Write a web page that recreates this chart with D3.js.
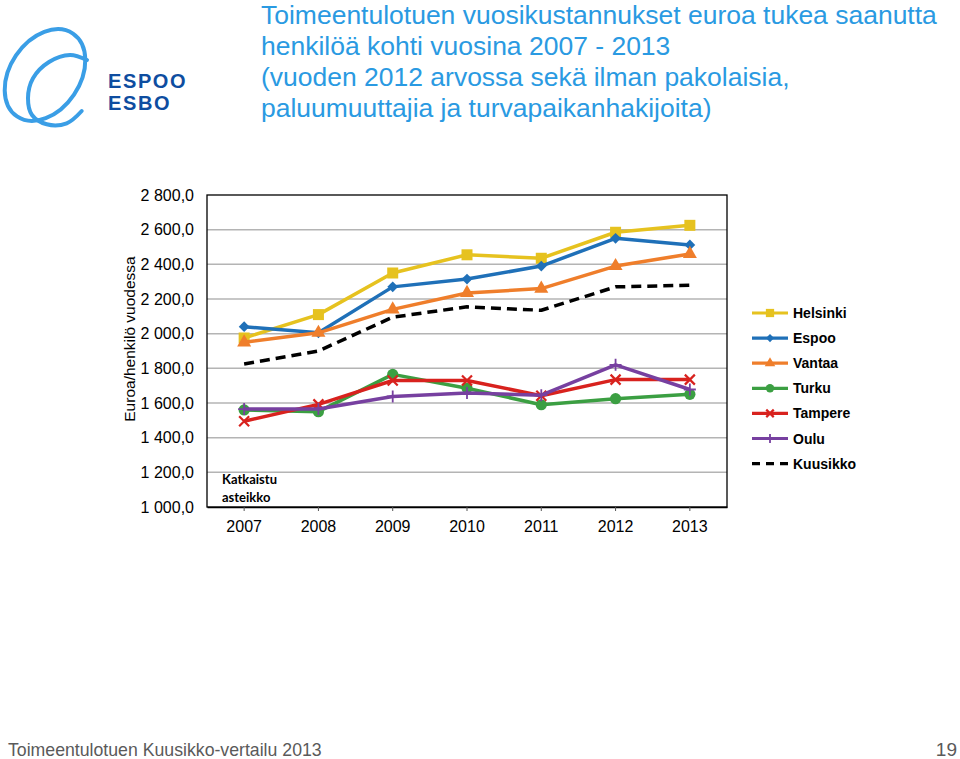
<!DOCTYPE html>
<html><head><meta charset="utf-8">
<script src="https://cdn.jsdelivr.net/npm/d3@7"></script>
<style>body{margin:0;background:#fff}svg{display:block}</style>
</head><body>
<svg id="c" width="960" height="759"></svg>
<script>
const years = ["2007","2008","2009","2010","2011","2012","2013"];
const helsinki = [1975, 2110, 2350, 2455, 2435, 2585, 2625];
const espoo    = [2040, 2005, 2270, 2315, 2390, 2550, 2512];
const vantaa   = [1950, 2005, 2140, 2235, 2260, 2390, 2460];
const turku    = [1560, 1550, 1765, 1685, 1590, 1625, 1650];
const tampere  = [1495, 1592, 1730, 1730, 1642, 1735, 1735];
const oulu     = [1565, 1565, 1638, 1658, 1645, 1820, 1678];
const kuusikko = [1825, 1900, 2095, 2155, 2135, 2270, 2280];
const seriesNames = ["Helsinki","Espoo","Vantaa","Turku","Tampere","Oulu","Kuusikko"];
const yTicks = [1000,1200,1400,1600,1800,2000,2200,2400,2600,2800];
const titleLines = ["Toimeentulotuen vuosikustannukset euroa tukea saanutta",
  "henkilöä kohti vuosina 2007 - 2013",
  "(vuoden 2012 arvossa sekä ilman pakolaisia,",
  "paluumuuttajia ja turvapaikanhakijoita)"];
const yTitle = "Euroa/henkilö vuodessa";
const noteLines = ["Katkaistu","asteikko"];
const footer = "Toimeentulotuen Kuusikko-vertailu 2013";
const pageNo = "19";

const colors = {Helsinki:"#e6c21f",Espoo:"#1f70b8",Vantaa:"#ef7e2b",Turku:"#3b9f42",Tampere:"#d8221e",Oulu:"#7740a0",Kuusikko:"#000"};
const markers = {Helsinki:"square",Espoo:"diamond",Vantaa:"triangle",Turku:"circle",Tampere:"x",Oulu:"plus",Kuusikko:null};
const data = [helsinki,espoo,vantaa,turku,tampere,oulu,kuusikko].map((v,i)=>({name:seriesNames[i],values:v}));

const svg = d3.select("#c");
const font = "'Liberation Sans', Arial, Helvetica, sans-serif";

// Logo
const logoBlue = "#3a9ee6";
svg.append("ellipse").attr("cx",45).attr("cy",75).attr("rx",50).attr("ry",35)
  .attr("transform","rotate(-56,45,75)")
  .attr("fill","none").attr("stroke",logoBlue).attr("stroke-width",4);
const innerPts = [[87,60],[70,55],[49,62],[33,78.3],[28,98.3],[32,115],[46.7,124.3],[66.7,123.3],[81.7,111]];
svg.append("path").attr("d", d3.line().curve(d3.curveCatmullRom)(innerPts))
  .attr("fill","none").attr("stroke",logoBlue).attr("stroke-width",4).attr("stroke-linecap","round");
svg.append("text").attr("x",108).attr("y",88).text("ESPOO")
  .attr("font-family",font).attr("font-weight","bold").attr("font-size",20).attr("letter-spacing",1.6).attr("fill","#0e4da0");
svg.append("text").attr("x",108).attr("y",110).text("ESBO")
  .attr("font-family",font).attr("font-weight","bold").attr("font-size",20).attr("letter-spacing",1.6).attr("fill","#0e4da0");

// Title
const tl = svg.append("g").selectAll("text").data(titleLines).join("text")
  .attr("x",261).attr("y",(d,i)=>24+i*31).text(d=>d)
  .attr("font-family",font).attr("font-size",24).attr("fill","#2a9ae2");
const w0 = tl.node().getComputedTextLength();
tl.attr("font-size", 24*676/w0);

// Scales
const x = d3.scaleBand().domain(years).range([207,727]);
const y = d3.scaleLinear().domain([1000,2800]).range([507,195]);

// Gridlines
svg.append("g").selectAll("line").data(yTicks.filter(t=>t>1000&&t<2800)).join("line")
  .attr("x1",207).attr("x2",727).attr("y1",d=>y(d)).attr("y2",d=>y(d))
  .attr("stroke","#b4b4b4").attr("stroke-width",1.5);

// Frame
svg.append("rect").attr("x",207).attr("y",195).attr("width",520).attr("height",312)
  .attr("fill","none").attr("stroke","#000").attr("stroke-width",1.3);

// Axes
const loc = d3.formatLocale({decimal:",",thousands:"\u00a0",grouping:[3],currency:["","€"]});
const fmt = loc.format(",.1f");
const ya = svg.append("g").attr("transform","translate(207,0)")
  .call(d3.axisLeft(y).tickValues(yTicks).tickFormat(fmt).tickSize(0).tickPadding(13));
ya.select(".domain").remove();
ya.selectAll("text").attr("font-family",font).attr("font-size",16).attr("fill","#000");

const xa = svg.append("g").attr("transform","translate(0,507)")
  .call(d3.axisBottom(x).tickSize(4).tickSizeOuter(0).tickPadding(10));
xa.select(".domain").attr("stroke","#000").attr("stroke-width",1.3);
xa.selectAll(".tick line").attr("stroke","#555");
xa.selectAll("text").attr("font-family",font).attr("font-size",16).attr("fill","#000");

// Y title
svg.append("text").attr("transform","translate(135,339) rotate(-90)").attr("text-anchor","middle")
  .text(yTitle).attr("font-family",font).attr("font-size",15.5).attr("fill","#000");

// Note
svg.append("g").selectAll("text").data(noteLines).join("text")
  .attr("x",222).attr("y",(d,i)=>484+i*18).text(d=>d)
  .attr("font-family","Lato, 'DejaVu Sans', sans-serif").attr("font-weight","bold").attr("font-size",13).attr("fill","#000");

// Marker drawing
function drawMarker(g, type, color, s){
  if(type==="square") g.append("rect").attr("x",-5.5*s).attr("y",-5.5*s).attr("width",11*s).attr("height",11*s).attr("fill",color);
  else if(type==="diamond") g.append("rect").attr("x",-3.8*s).attr("y",-3.8*s).attr("width",7.6*s).attr("height",7.6*s).attr("transform","rotate(45)").attr("fill",color);
  else if(type==="triangle") g.append("path").attr("d",d3.symbol(d3.symbolTriangle, 85*s*s)()).attr("fill",color);
  else if(type==="circle") g.append("circle").attr("r",5.6*s).attr("fill",color);
  else if(type==="x") g.append("path").attr("d",`M${-5*s},${-5*s}L${5*s},${5*s}M${-5*s},${5*s}L${5*s},${-5*s}`).attr("stroke",color).attr("stroke-width",2.2);
  else if(type==="plus") g.append("path").attr("d",`M${-6*s},0L${6*s},0M0,${-6*s}L0,${6*s}`).attr("stroke",color).attr("stroke-width",1.8);
}

// Lines
const line = d3.line().x((d,i)=>x(years[i])+x.bandwidth()/2).y(d=>y(d));
const sg = svg.append("g").selectAll("g").data(data).join("g");
sg.each(function(s){
  const g = d3.select(this);
  g.append("path").attr("d",line(s.values)).attr("fill","none")
    .attr("stroke",colors[s.name]).attr("stroke-width",3.5).attr("stroke-linejoin","round")
    .attr("stroke-dasharray", s.name==="Kuusikko" ? "10,6" : null);
  if(markers[s.name]){
    s.values.forEach((v,i)=>{
      const mg = g.append("g").attr("transform",`translate(${x(years[i])+x.bandwidth()/2},${y(v)})`);
      drawMarker(mg, markers[s.name], colors[s.name], 1);
    });
  }
});

// Legend
const lg = svg.append("g").selectAll("g").data(seriesNames).join("g")
  .attr("transform",(d,i)=>`translate(752,${313+i*25.1})`);
lg.each(function(n){
  const g = d3.select(this);
  g.append("line").attr("x1",0).attr("x2",36).attr("y1",0).attr("y2",0)
    .attr("stroke",colors[n]).attr("stroke-width",3.2)
    .attr("stroke-dasharray", n==="Kuusikko" ? "8,6" : null);
  if(markers[n]){ const mg=g.append("g").attr("transform","translate(18,0)"); drawMarker(mg, markers[n], colors[n], 0.75); }
  g.append("text").attr("x",41).attr("y",5).text(n)
    .attr("font-family",font).attr("font-weight","bold").attr("font-size",14).attr("fill","#000");
});

// Footer
const ffont = "'Liberation Sans Narrow', 'Arial Narrow', "+font;
const ft = svg.append("text").attr("x",8).attr("y",756).text(footer)
  .attr("font-family",ffont).attr("font-size",19).attr("fill","#5a5a5a");
const fw = ft.node().getComputedTextLength();
ft.attr("font-size", 19*314/fw);
svg.append("text").attr("x",957).attr("y",756).attr("text-anchor","end").text(pageNo)
  .attr("font-family",ffont).attr("font-size",19).attr("fill","#5a5a5a");
</script>
</body></html>
